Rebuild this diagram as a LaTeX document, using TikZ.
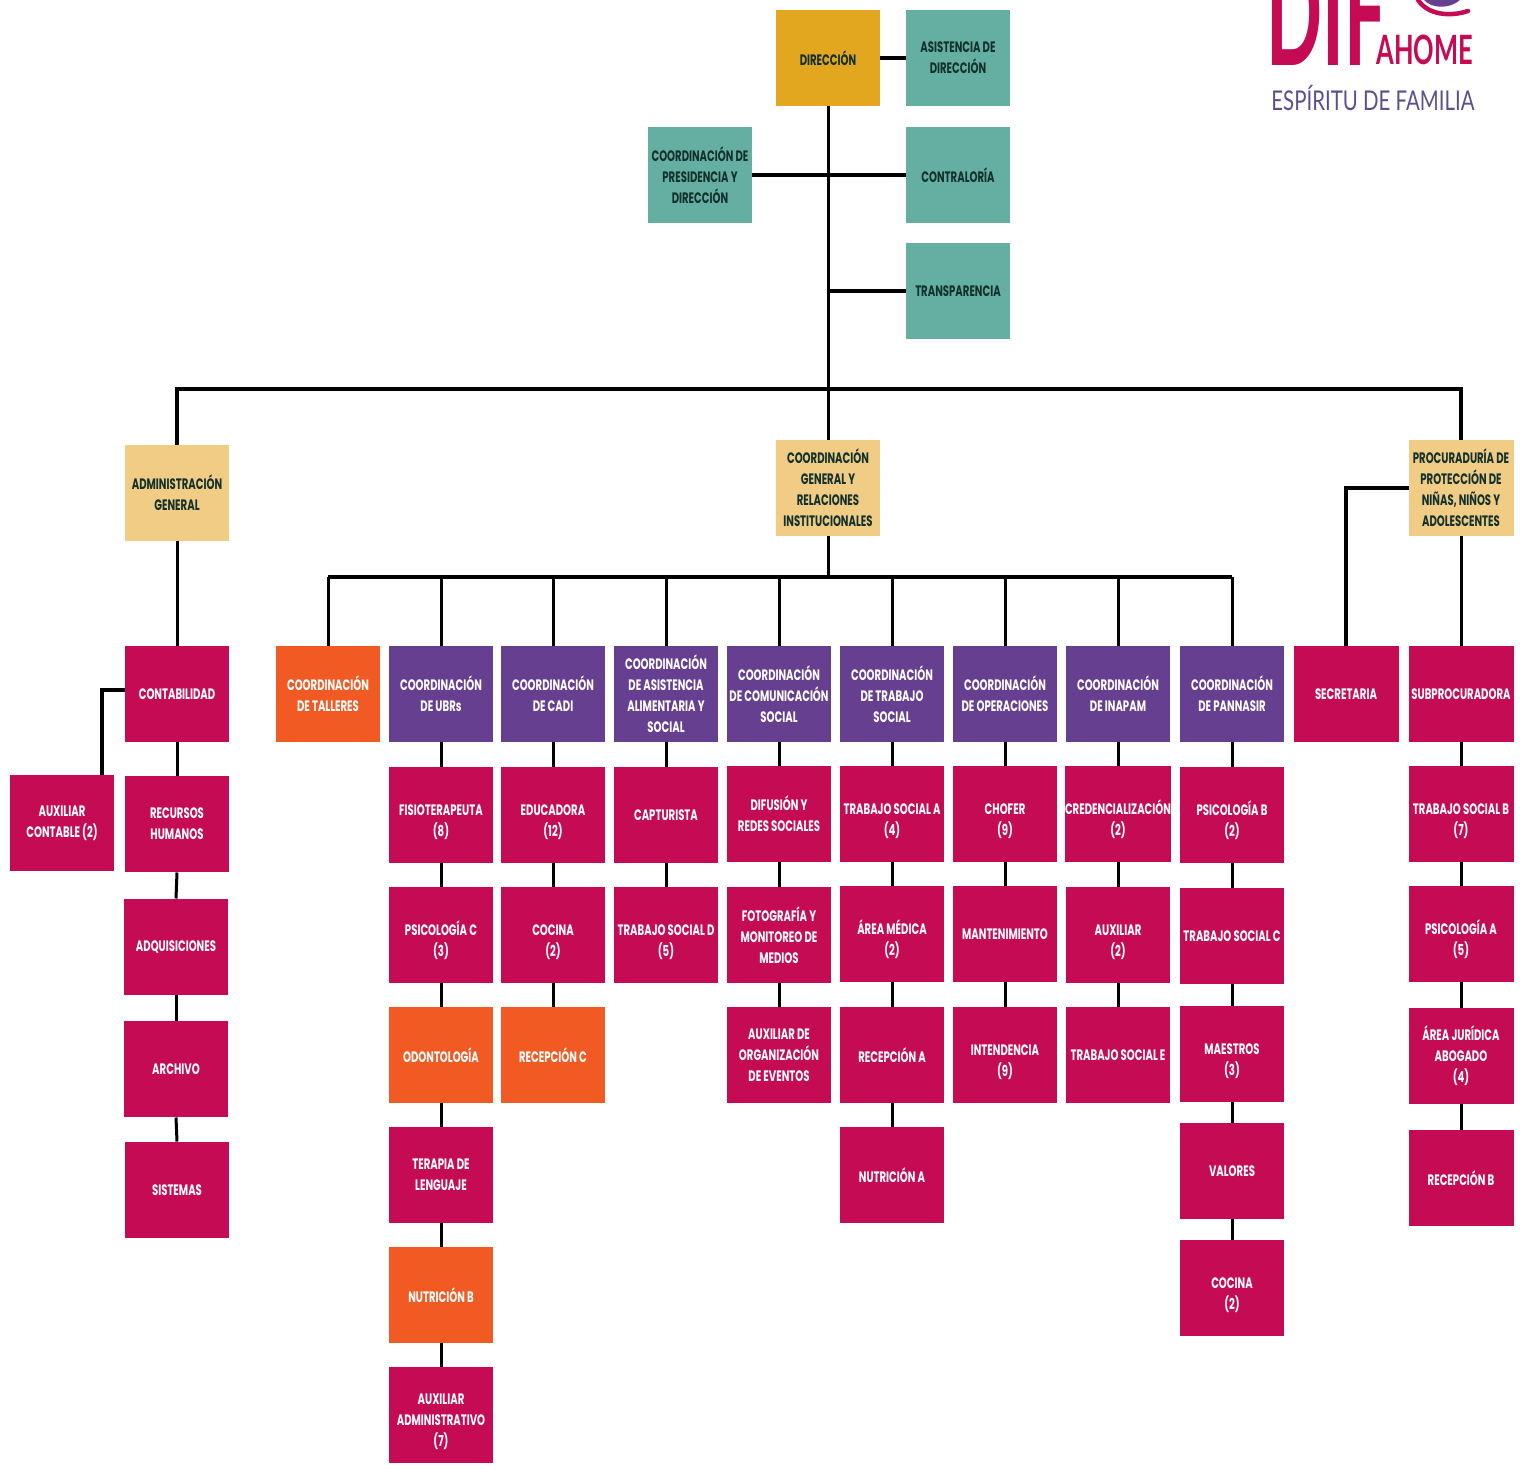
\documentclass[tikz,border=0pt]{standalone}
\usepackage{fontspec}
\setmainfont[FakeStretch=0.67]{Poppins}
\newfontfamily\lemafont[FakeStretch=0.75]{Lato}
\newfontfamily\ahomefont[FakeStretch=0.63]{Lato}
\newfontfamily\diffont[FakeStretch=0.5]{Lato}
\newcommand{\alto}{\rule{0pt}{14pt}}
\definecolor{oro}{HTML}{E3A71F}
\definecolor{verde}{HTML}{65AFA2}
\definecolor{arena}{HTML}{F0CC85}
\definecolor{carmin}{HTML}{C60B55}
\definecolor{naranja}{HTML}{F15A22}
\definecolor{morado}{HTML}{673F90}
\definecolor{lema}{HTML}{5E4F8C}
\definecolor{tinta}{HTML}{12302C}
\tikzset{
	caja/.style={minimum width=2.1cm, minimum height=1.94cm, inner sep=0pt, outer sep=0pt, align=center, font=\fontsize{8.6}{12}\selectfont\bfseries},
	cajaoro/.style={caja, fill=oro, text=tinta},
	cajaverde/.style={caja, fill=verde, text=tinta},
	cajaarena/.style={caja, fill=arena, text=tinta},
	cajacarmin/.style={caja, fill=carmin, text=white},
	cajanaranja/.style={caja, fill=naranja, text=white},
	cajamorada/.style={caja, fill=morado, text=white},
	linea/.style={line width=0.06cm, black},
	bus/.style={line width=0.08cm, black},
}
\begin{document}
\begin{tikzpicture}[x=0.02cm, y=-0.02cm]
	\useasboundingbox [fill=white] (0,0) rectangle (1526,1469);
	% Logo
	\begin{scope}
		\clip (1250,0) rectangle (1500,120);
		\node [anchor=base west, inner sep=0pt, text=carmin, font=\diffont\fontsize{84}{84}\selectfont\bfseries] (dif) at (1266,66) {DIF};
		\fill [morado] (1424,0) .. controls (1432,9) and (1450,9) .. (1460,0) -- cycle;
		\draw [carmin, line width=0.09cm, line cap=round] (1418,0) .. controls (1428,15) and (1450,17) .. (1468,11);
		\node [anchor=base west, inner sep=0pt, text=carmin, font=\ahomefont\fontsize{23}{24}\selectfont\bfseries] (ahome) at (1376,65) {AHOME};
		\node [anchor=base west, inner sep=0pt, text=lema, font=\lemafont\fontsize{15.5}{18}\selectfont] (lema) at (1271,111) {ESPÍRITU DE FAMILIA};
	\end{scope}
	% Direccion
	\node [cajaoro] (direccion) at (828,58) {DIRECCIÓN};
	\node [cajaverde] (asistencia) at (958,58) {ASISTENCIA DE\\DIRECCIÓN};
	\node [cajaverde] (presidencia) at (700,175) {COORDINACIÓN DE\\PRESIDENCIA Y\\DIRECCIÓN};
	\node [cajaverde] (contraloria) at (958,175) {CONTRALORÍA};
	\node [cajaverde] (transparencia) at (958,291) {TRANSPARENCIA};
	% Segundo nivel
	\node [cajaarena] (administracion) at (177,493) {ADMINISTRACIÓN\\GENERAL};
	\node [cajaarena] (general) at (828,488) {COORDINACIÓN\\GENERAL Y\\RELACIONES\\INSTITUCIONALES};
	\node [cajaarena] (procuraduria) at (1461,488) {PROCURADURÍA DE\\PROTECCIÓN DE\\NIÑAS, NIÑOS Y\\ADOLESCENTES};
	% Coordinaciones
	\node [cajacarmin] (contabilidad) at (177,694) {CONTABILIDAD};
	\node [cajanaranja] (talleres) at (328,694) {COORDINACIÓN\\DE TALLERES};
	\node [cajamorada] (ubrs) at (441,694) {COORDINACIÓN\\DE UBRs};
	\node [cajamorada] (cadi) at (553,694) {COORDINACIÓN\\DE CADI};
	\node [cajamorada] (alimentaria) at (666,694) {COORDINACIÓN\\DE ASISTENCIA\\ALIMENTARIA Y\\SOCIAL};
	\node [cajamorada] (comunicacion) at (779,694) {COORDINACIÓN\\DE COMUNICACIÓN\\SOCIAL};
	\node [cajamorada] (trabajo) at (892,694) {COORDINACIÓN\\DE TRABAJO\\SOCIAL};
	\node [cajamorada] (operaciones) at (1005,694) {COORDINACIÓN\\DE OPERACIONES};
	\node [cajamorada] (inapam) at (1118,694) {COORDINACIÓN\\DE INAPAM};
	\node [cajamorada] (pannasir) at (1232,694) {COORDINACIÓN\\DE PANNASIR};
	\node [cajacarmin] (secretaria) at (1346,694) {SECRETARIA};
	\node [cajacarmin] (subprocuradora) at (1461,694) {SUBPROCURADORA};
	% Administracion
	\node [cajacarmin] (auxcontable) at (62,823) {AUXILIAR\\CONTABLE (2)};
	\node [cajacarmin] (recursos) at (177,824) {RECURSOS\\HUMANOS};
	\node [cajacarmin] (adquisiciones) at (176,947) {ADQUISICIONES};
	\node [cajacarmin] (archivo) at (176,1069) {ARCHIVO};
	\node [cajacarmin] (sistemas) at (177,1190) {SISTEMAS};
	% UBRs
	\node [cajacarmin] (fisio) at (441,815) {\alto FISIOTERAPEUTA\\(8)};
	\node [cajacarmin] (psicoc) at (441,935) {\alto PSICOLOGÍA C\\(3)};
	\node [cajanaranja] (odonto) at (441,1055) {ODONTOLOGÍA};
	\node [cajacarmin] (terapia) at (441,1175) {TERAPIA DE\\LENGUAJE};
	\node [cajanaranja] (nutrib) at (441,1295) {NUTRICIÓN B};
	\node [cajacarmin] (auxadmin) at (441,1415) {\alto AUXILIAR\\ADMINISTRATIVO\\(7)};
	% CADI
	\node [cajacarmin] (educadora) at (553,815) {\alto EDUCADORA\\(12)};
	\node [cajacarmin] (cocinaa) at (553,935) {\alto COCINA\\(2)};
	\node [cajanaranja] (recepc) at (553,1055) {RECEPCIÓN C};
	% Asistencia alimentaria
	\node [cajacarmin] (capturista) at (666,815) {CAPTURISTA};
	\node [cajacarmin] (tsd) at (666,935) {\alto TRABAJO SOCIAL D\\(5)};
	% Comunicacion
	\node [cajacarmin] (difusion) at (779,814) {DIFUSIÓN Y\\REDES SOCIALES};
	\node [cajacarmin] (fotografia) at (779,935) {FOTOGRAFÍA Y\\MONITOREO DE\\MEDIOS};
	\node [cajacarmin] (eventos) at (779,1055) {AUXILIAR DE\\ORGANIZACIÓN\\DE EVENTOS};
	% Trabajo social
	\node [cajacarmin] (tsa) at (892,814) {\alto TRABAJO SOCIAL A\\(4)};
	\node [cajacarmin] (medica) at (892,934) {\alto ÁREA MÉDICA\\(2)};
	\node [cajacarmin] (recepa) at (892,1055) {RECEPCIÓN A};
	\node [cajacarmin] (nutria) at (892,1175) {NUTRICIÓN A};
	% Operaciones
	\node [cajacarmin] (chofer) at (1005,814) {\alto CHOFER\\(9)};
	\node [cajacarmin] (mantenimiento) at (1005,934) {MANTENIMIENTO};
	\node [cajacarmin] (intendencia) at (1005,1055) {\alto INTENDENCIA\\(9)};
	% INAPAM
	\node [cajacarmin] (credencial) at (1118,814) {\alto CREDENCIALIZACIÓN\\(2)};
	\node [cajacarmin] (auxiliar) at (1118,935) {\alto AUXILIAR\\(2)};
	\node [cajacarmin] (tse) at (1118,1055) {TRABAJO SOCIAL E};
	% PANNASIR
	\node [cajacarmin] (psicob) at (1232,815) {\alto PSICOLOGÍA B\\(2)};
	\node [cajacarmin] (tsc) at (1232,936) {TRABAJO SOCIAL C};
	\node [cajacarmin] (maestros) at (1232,1054) {\alto MAESTROS\\(3)};
	\node [cajacarmin] (valores) at (1232,1171) {VALORES};
	\node [cajacarmin] (cocinab) at (1232,1288) {\alto COCINA\\(2)};
	% Subprocuradora
	\node [cajacarmin] (tsb) at (1461,814) {\alto TRABAJO SOCIAL B\\(7)};
	\node [cajacarmin] (psicoa) at (1461,934) {\alto PSICOLOGÍA A\\(5)};
	\node [cajacarmin] (juridica) at (1461,1056) {ÁREA JURÍDICA\\ABOGADO\\(4)};
	\node [cajacarmin] (recepb) at (1461,1178) {RECEPCIÓN B};
	% Puntos de los buses
	\coordinate (busa) at (828,389);
	\coordinate (busb) at (828,577);
	\coordinate (codo) at (102,690);
	% Lineas de direccion
	\draw [linea] (direccion.south) -- (general.north);
	\draw [bus] (direccion.east |- asistencia.west) -- (asistencia.west);
	\draw [bus] (presidencia.east) -- (contraloria.west);
	\draw [bus] (transparencia.west) -- (transparencia.west -| direccion.south);
	% Buses
	\draw [bus] (administracion.north) -- (busa -| administracion.north) -- (busa -| procuraduria.north) -- (procuraduria.north);
	\draw [linea] (general.south) -- (busb);
	\draw [bus] (busb -| talleres.north) -- (busb -| pannasir.north);
	\foreach \n in {talleres,ubrs,cadi,alimentaria,comunicacion,trabajo,operaciones,inapam,pannasir} {
		\draw [linea] (busb -| \n.north) -- (\n.north);
	}
	\draw [bus] (procuraduria.west) -| (secretaria.north);
	\draw [bus] (codo -| contabilidad.west) -- (codo) -- (codo |- auxcontable.north);
	% Columnas
	\foreach \a/\b in {administracion/contabilidad,contabilidad/recursos,recursos/adquisiciones,adquisiciones/archivo,archivo/sistemas,
		ubrs/fisio,fisio/psicoc,psicoc/odonto,odonto/terapia,terapia/nutrib,nutrib/auxadmin,
		cadi/educadora,educadora/cocinaa,cocinaa/recepc,
		alimentaria/capturista,capturista/tsd,
		comunicacion/difusion,difusion/fotografia,fotografia/eventos,
		trabajo/tsa,tsa/medica,medica/recepa,recepa/nutria,
		operaciones/chofer,chofer/mantenimiento,mantenimiento/intendencia,
		inapam/credencial,credencial/auxiliar,auxiliar/tse,
		pannasir/psicob,psicob/tsc,tsc/maestros,maestros/valores,valores/cocinab,
		procuraduria/subprocuradora,subprocuradora/tsb,tsb/psicoa,psicoa/juridica,juridica/recepb} {
		\draw [linea] (\a.south) -- (\b.north);
	}
\end{tikzpicture}
\end{document}
